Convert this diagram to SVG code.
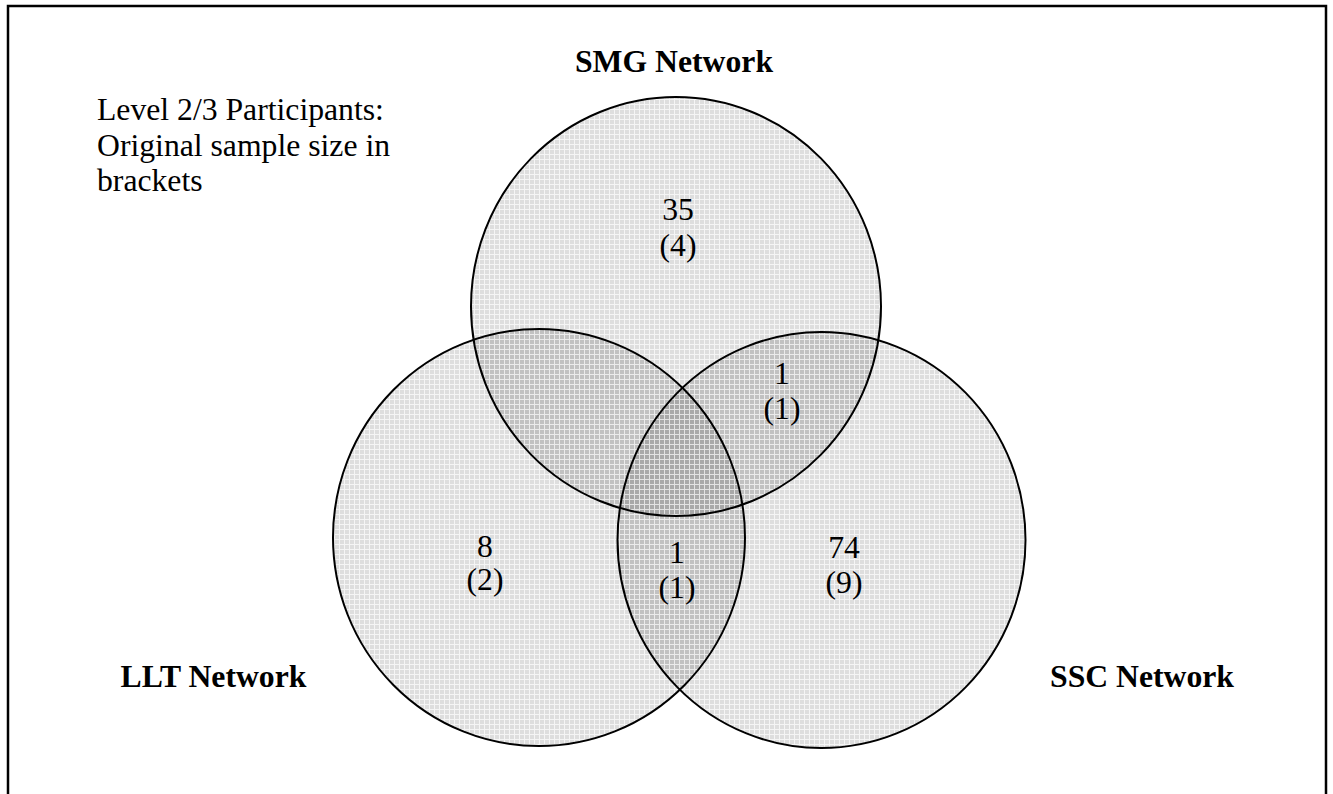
<svg xmlns="http://www.w3.org/2000/svg" width="1333" height="794" viewBox="0 0 1333 794">
<defs>
<pattern id="hatch" patternUnits="userSpaceOnUse" width="5" height="5">
<rect x="0" y="0" width="4" height="4" fill="#000" fill-opacity="0.13"/>
<rect x="4" y="0" width="1" height="5" fill="#000" fill-opacity="0.04"/>
<rect x="0" y="4" width="4" height="1" fill="#000" fill-opacity="0.04"/>
</pattern>
</defs>
<style>
.set{fill:url(#hatch);stroke:#000;stroke-width:2}
.t{font-family:"Liberation Serif","Times New Roman",serif;font-size:31.7px;fill:#000}
.b{font-weight:bold}
.c{text-anchor:middle}
</style>
<rect x="0" y="0" width="1333" height="794" fill="#fff"/>
<path d="M8,800 V6 H1326 V800" fill="none" stroke="#000" stroke-width="2.5"/>
<g id="note">
<text class="t" x="97" y="120">Level 2/3 Participants:</text>
<text class="t" x="97" y="155.5">Original sample size in</text>
<text class="t" x="97" y="191">brackets</text>
</g>
<g id="smg">
<ellipse class="set" cx="676" cy="306.5" rx="205" ry="209.5"/>
<text class="t b c" x="674" y="71.5">SMG Network</text>
</g>
<g id="llt">
<ellipse class="set" cx="539" cy="537.5" rx="206" ry="208.5"/>
<text class="t b c" x="213.5" y="687">LLT Network</text>
</g>
<g id="ssc">
<ellipse class="set" cx="821.5" cy="540" rx="204" ry="208"/>
<text class="t b c" x="1142" y="687">SSC Network</text>
</g>
<g id="counts">
<text class="t c" x="678" y="220">35</text>
<text class="t c" x="678" y="256">(4)</text>
<text class="t c" x="782" y="384">1</text>
<text class="t c" x="782" y="419">(1)</text>
<text class="t c" x="485" y="557">8</text>
<text class="t c" x="485" y="590">(2)</text>
<text class="t c" x="677" y="563">1</text>
<text class="t c" x="677" y="598">(1)</text>
<text class="t c" x="844" y="558">74</text>
<text class="t c" x="844" y="593">(9)</text>
</g>
<g id="connectors"/>
</svg>
